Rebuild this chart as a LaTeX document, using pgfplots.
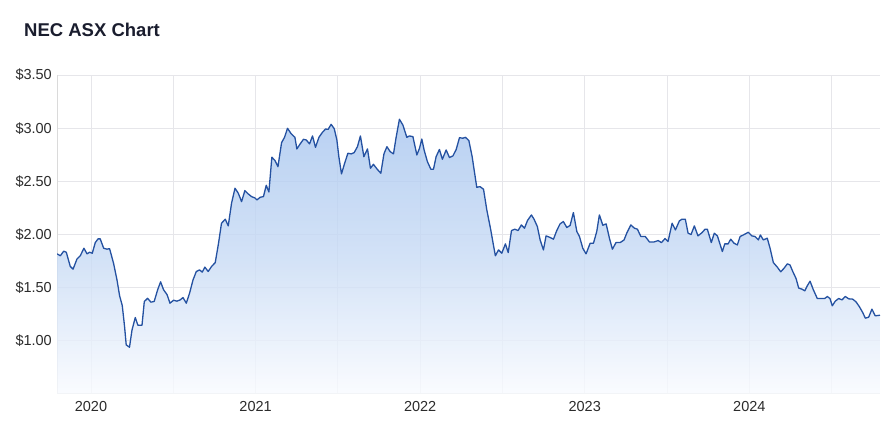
\documentclass[border=0pt]{standalone}
\usepackage{fontspec}
\setmainfont{Liberation Sans}
\usepackage{pgfplots}
\usepackage{pgfplotstable}
\pgfplotsset{compat=1.18}
\definecolor{linec}{HTML}{2451A1}
\definecolor{gridc}{HTML}{E6E6EA}
\definecolor{axisc}{HTML}{DADADA}
\definecolor{labc}{HTML}{2B2B2B}
\definecolor{titlec}{HTML}{1A1D2E}
\definecolor{fillTop}{HTML}{A8C6EF}
\definecolor{fillMid}{HTML}{C8DBF5}
\definecolor{fillBot}{HTML}{F9FBFF}

\pgfplotstableread{
t p
2019.794 1.818
2019.814 1.800
2019.834 1.843
2019.850 1.833
2019.874 1.700
2019.891 1.674
2019.915 1.770
2019.935 1.800
2019.957 1.871
2019.976 1.818
2019.991 1.833
2020.008 1.824
2020.026 1.924
2020.043 1.959
2020.056 1.959
2020.077 1.871
2020.097 1.862
2020.113 1.867
2020.137 1.730
2020.158 1.573
2020.174 1.423
2020.190 1.332
2020.204 1.135
2020.214 0.962
2020.234 0.940
2020.249 1.100
2020.269 1.219
2020.285 1.147
2020.310 1.147
2020.324 1.370
2020.344 1.400
2020.364 1.364
2020.384 1.370
2020.405 1.480
2020.423 1.555
2020.441 1.480
2020.462 1.435
2020.480 1.354
2020.502 1.382
2020.522 1.373
2020.542 1.385
2020.559 1.407
2020.579 1.354
2020.599 1.448
2020.620 1.573
2020.640 1.652
2020.660 1.667
2020.676 1.646
2020.692 1.693
2020.712 1.652
2020.733 1.700
2020.755 1.736
2020.775 1.918
2020.793 2.106
2020.816 2.144
2020.834 2.081
2020.854 2.294
2020.875 2.435
2020.895 2.388
2020.915 2.309
2020.935 2.413
2020.955 2.382
2020.975 2.357
2020.996 2.344
2021.008 2.325
2021.028 2.350
2021.048 2.357
2021.065 2.463
2021.081 2.400
2021.099 2.727
2021.118 2.695
2021.136 2.638
2021.158 2.864
2021.176 2.914
2021.194 2.999
2021.215 2.950
2021.239 2.914
2021.251 2.805
2021.271 2.852
2021.291 2.895
2021.308 2.889
2021.328 2.852
2021.346 2.927
2021.364 2.820
2021.385 2.914
2021.405 2.958
2021.425 2.992
2021.441 2.989
2021.459 3.036
2021.478 2.995
2021.494 2.889
2021.506 2.732
2021.522 2.570
2021.540 2.664
2021.561 2.764
2021.581 2.758
2021.599 2.770
2021.619 2.826
2021.637 2.927
2021.658 2.732
2021.680 2.805
2021.698 2.623
2021.716 2.660
2021.739 2.614
2021.761 2.576
2021.780 2.758
2021.798 2.826
2021.818 2.779
2021.838 2.758
2021.854 2.914
2021.874 3.084
2021.895 3.030
2021.919 2.914
2021.935 2.927
2021.956 2.920
2021.980 2.748
2021.996 2.811
2022.010 2.898
2022.024 2.795
2022.044 2.685
2022.065 2.614
2022.081 2.614
2022.097 2.732
2022.117 2.800
2022.135 2.708
2022.158 2.795
2022.178 2.724
2022.199 2.739
2022.219 2.800
2022.239 2.911
2022.259 2.905
2022.275 2.914
2022.296 2.883
2022.316 2.732
2022.328 2.607
2022.344 2.444
2022.364 2.450
2022.385 2.426
2022.405 2.231
2022.429 2.043
2022.445 1.902
2022.457 1.800
2022.476 1.855
2022.496 1.824
2022.518 1.912
2022.535 1.830
2022.555 2.037
2022.575 2.050
2022.595 2.037
2022.615 2.090
2022.634 2.059
2022.652 2.131
2022.676 2.184
2022.692 2.144
2022.712 2.075
2022.729 1.949
2022.749 1.855
2022.765 1.987
2022.785 1.975
2022.810 1.956
2022.830 2.037
2022.850 2.100
2022.870 2.122
2022.891 2.066
2022.911 2.085
2022.931 2.206
2022.952 2.028
2022.968 1.981
2022.988 1.871
2023.008 1.818
2023.033 1.918
2023.053 1.918
2023.073 2.028
2023.089 2.184
2023.110 2.087
2023.130 2.100
2023.150 1.965
2023.168 1.862
2023.190 1.924
2023.215 1.924
2023.239 1.949
2023.255 2.012
2023.280 2.090
2023.302 2.059
2023.320 2.050
2023.341 1.981
2023.368 1.981
2023.393 1.930
2023.421 1.930
2023.446 1.943
2023.466 1.924
2023.488 1.962
2023.506 1.934
2023.531 2.106
2023.551 2.043
2023.575 2.128
2023.591 2.144
2023.611 2.144
2023.628 2.012
2023.646 2.000
2023.666 2.081
2023.688 1.987
2023.713 2.018
2023.731 2.050
2023.745 2.050
2023.769 1.924
2023.787 2.012
2023.806 1.987
2023.836 1.840
2023.851 1.912
2023.871 1.912
2023.887 1.956
2023.907 1.918
2023.927 1.902
2023.944 1.981
2023.964 1.996
2023.994 2.021
2024.015 1.987
2024.035 1.981
2024.055 1.949
2024.067 1.996
2024.085 1.949
2024.109 1.965
2024.126 1.871
2024.146 1.736
2024.170 1.693
2024.191 1.649
2024.211 1.683
2024.231 1.724
2024.247 1.714
2024.264 1.652
2024.284 1.586
2024.300 1.496
2024.320 1.486
2024.337 1.470
2024.352 1.517
2024.369 1.561
2024.389 1.480
2024.413 1.398
2024.437 1.398
2024.458 1.398
2024.474 1.417
2024.490 1.398
2024.504 1.329
2024.522 1.373
2024.543 1.398
2024.563 1.385
2024.583 1.417
2024.604 1.395
2024.628 1.392
2024.648 1.367
2024.668 1.323
2024.689 1.266
2024.705 1.213
2024.725 1.222
2024.745 1.298
2024.765 1.235
2024.794 1.241
}\pricedata

\begin{document}
\begin{tikzpicture}[x=1pt,y=1pt]
\useasboundingbox (0,0) rectangle (896,436);
\fill[white] (0,0) rectangle (896,436);
\node[anchor=base west, inner sep=0pt, text=titlec, font=\fontsize{18.5}{22}\selectfont\bfseries] at (24,399.3) {NEC ASX Chart};
\begin{axis}[
  at={(57pt,42pt)}, anchor=south west,
  scale only axis, width=823pt, height=319pt,
  xmin=2019.7935, xmax=2024.794, ymin=0.5, ymax=3.5,
  axis x line*=bottom, axis y line*=left,
  axis line style={-, draw=axisc, line width=1pt},
  xtick={2020,2020.5,2021,2021.5,2022,2022.5,2023,2023.5,2024,2024.5},
  xticklabels={2020,,2021,,2022,,2023,,2024,},
  ytick={1,1.5,2,2.5,3,3.5},
  grid=major, major grid style={draw=gridc, line width=0.8pt},
  major tick length=0pt,
  /pgf/number format/assume math mode=true,
  tick label style={font=\fontsize{14.5}{17}\selectfont, text=labc},
  yticklabel={\$\pgfmathprintnumber[fixed,fixed zerofill,precision=2]{\tick}},
  yticklabel style={anchor=east, inner sep=0pt, xshift=-5pt},
  xticklabel style={anchor=north, inner sep=0pt, yshift=-7pt},
]
\addplot[draw=none, fill opacity=0.8, top color=fillTop, bottom color=fillBot, middle color=fillMid]
  table[x=t,y=p]{\pricedata} -- (axis cs:2024.794,0.5) -- (axis cs:2019.7935,0.5) -- cycle;
\addplot[linec, line width=1.3pt, mark=none, line join=round] table[x=t,y=p]{\pricedata};
\end{axis}
\end{tikzpicture}
\end{document}
